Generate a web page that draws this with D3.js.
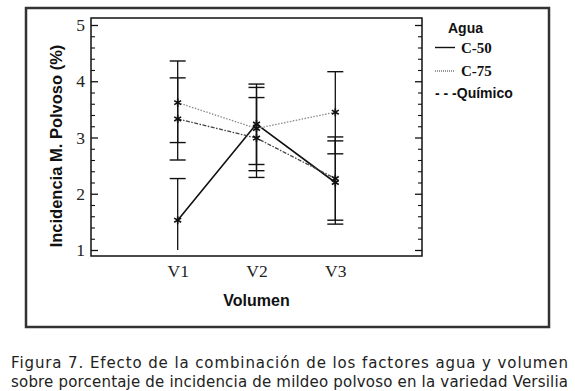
<!DOCTYPE html>
<html>
<head>
<meta charset="utf-8">
<script src="https://cdn.jsdelivr.net/npm/d3@7"></script>
<style>
  body { margin: 0; background: #fff; }
  svg { display: block; }
</style>
</head>
<body>
<div id="chart"></div>
<script>
// Data
const categories = ['V1', 'V2', 'V3'];
const c50 = [1.53, 3.24, 2.20];
const c50Low = [0.79, 2.52, 1.46];
const c50High = [2.27, 3.95, 2.94];
const c75 = [3.62, 3.16, 3.45];
const c75Low = [2.91, 2.41, 2.71];
const c75High = [4.36, 3.89, 4.17];
const quim = [3.33, 2.99, 2.27];
const quimLow = [2.60, 2.29, 1.53];
const quimHigh = [4.06, 3.71, 3.01];
const yTicks = [1, 2, 3, 4, 5];

const captionLines = [
    'Figura 7. Efecto de la combinación de los factores agua y volumen',
    'sobre porcentaje de incidencia de mildeo polvoso en la variedad Versilia'
];

const W = 575, H = 391;
const box = { left: 91, right: 422, top: 18, bottom: 256 };

const svg = d3.select('#chart')
    .append('svg')
    .attr('width', W)
    .attr('height', H);

// Outer frame
svg.append('rect')
    .attr('x', 26).attr('y', 8)
    .attr('width', 523).attr('height', 319)
    .attr('fill', '#fff')
    .attr('stroke', '#333')
    .attr('stroke-width', 2.5);

// Scales
const x = d3.scalePoint()
    .domain(categories)
    .range([box.left, box.right])
    .padding(1.1);

const y = d3.scaleLinear()
    .domain([1, 5])
    .range([250, 25]);

// Plot box
svg.append('rect')
    .attr('x', box.left).attr('y', box.top)
    .attr('width', box.right - box.left)
    .attr('height', box.bottom - box.top)
    .attr('fill', 'none')
    .attr('stroke', '#111')
    .attr('stroke-width', 1.5);

const minorTicks = d3.range(1, 5.001, 0.2).filter(v => Math.abs(v - Math.round(v)) > 0.01);

// Left axis (ticks pointing inward)
const leftAxis = svg.append('g')
    .attr('transform', `translate(${box.left},0)`)
    .call(d3.axisLeft(y).tickValues(yTicks).tickSize(-7).tickPadding(6).tickFormat(d3.format('d')));
leftAxis.select('.domain').remove();
leftAxis.selectAll('line').attr('stroke', '#111').attr('stroke-width', 1.3);
leftAxis.selectAll('text')
    .style('font-family', '"Liberation Serif", "Times New Roman", serif')
    .style('font-size', '17.5px')
    .attr('fill', '#222');

svg.append('g')
    .attr('transform', `translate(${box.left},0)`)
    .call(d3.axisLeft(y).tickValues(minorTicks).tickSize(-4).tickFormat(''))
    .call(g => g.select('.domain').remove())
    .selectAll('line').attr('stroke', '#111').attr('stroke-width', 1.1);

// Right axis (ticks pointing inward, no labels)
svg.append('g')
    .attr('transform', `translate(${box.right},0)`)
    .call(d3.axisRight(y).tickValues(yTicks).tickSize(-7).tickFormat(''))
    .call(g => g.select('.domain').remove())
    .selectAll('line').attr('stroke', '#111').attr('stroke-width', 1.3);

svg.append('g')
    .attr('transform', `translate(${box.right},0)`)
    .call(d3.axisRight(y).tickValues(minorTicks).tickSize(-4).tickFormat(''))
    .call(g => g.select('.domain').remove())
    .selectAll('line').attr('stroke', '#111').attr('stroke-width', 1.1);

// X axis labels
const xAxis = svg.append('g')
    .attr('transform', `translate(0,${box.bottom})`)
    .call(d3.axisBottom(x).tickSize(0).tickPadding(9));
xAxis.select('.domain').remove();
xAxis.selectAll('text')
    .style('font-family', '"Liberation Serif", "Times New Roman", serif')
    .style('font-size', '17.5px')
    .attr('fill', '#222');

// Axis titles
svg.append('text')
    .attr('x', (box.left + box.right) / 2)
    .attr('y', 306)
    .attr('text-anchor', 'middle')
    .style('font-family', '"Liberation Sans", Arial, sans-serif')
    .style('font-weight', 'bold')
    .style('font-size', '16px')
    .attr('fill', '#111')
    .text('Volumen');

svg.append('text')
    .attr('transform', `translate(62,${(box.top + 250) / 2 + 12}) rotate(-90)`)
    .attr('text-anchor', 'middle')
    .style('font-family', '"Liberation Sans", Arial, sans-serif')
    .style('font-weight', 'bold')
    .style('font-size', '16.5px')
    .attr('fill', '#111')
    .text('Incidencia M. Polvoso (%)');

// Series
const series = [
    { name: 'C-50', mean: c50, low: c50Low, high: c50High, color: '#111', width: 1.6, dash: null },
    { name: 'C-75', mean: c75, low: c75Low, high: c75High, color: '#8a8a8a', width: 1.3, dash: '1.5,1.5' },
    { name: 'Químico', mean: quim, low: quimLow, high: quimHigh, color: '#444', width: 1.3, dash: '4,1.5,1.5,1.5' }
];

const yMin = y.domain()[0];
const capHalf = 8;

// Error bars (clipped at the axis minimum, no cap when clipped)
series.forEach(s => {
    const g = svg.append('g').attr('class', 'errbar');
    categories.forEach((c, i) => {
        const lo = Math.max(s.low[i], yMin);
        const cx = x(c);
        g.append('line')
            .attr('x1', cx).attr('x2', cx)
            .attr('y1', y(lo)).attr('y2', y(s.high[i]))
            .attr('stroke', '#111').attr('stroke-width', 1.3);
        g.append('line')
            .attr('x1', cx - capHalf).attr('x2', cx + capHalf)
            .attr('y1', y(s.high[i])).attr('y2', y(s.high[i]))
            .attr('stroke', '#111').attr('stroke-width', 1.4);
        if (s.low[i] >= yMin) {
            g.append('line')
                .attr('x1', cx - capHalf).attr('x2', cx + capHalf)
                .attr('y1', y(s.low[i])).attr('y2', y(s.low[i]))
                .attr('stroke', '#111').attr('stroke-width', 1.4);
        }
    });
});

const line = d3.line()
    .x((d, i) => x(categories[i]))
    .y(d => y(d));

series.forEach(s => {
    svg.append('path')
        .datum(s.mean)
        .attr('d', line)
        .attr('fill', 'none')
        .attr('stroke', s.color)
        .attr('stroke-width', s.width)
        .attr('stroke-dasharray', s.dash);
});

// Markers
const marker = d3.symbol().type(d3.symbolAsterisk).size(45);
series.forEach(s => {
    svg.append('g')
        .selectAll('path')
        .data(s.mean)
        .enter()
        .append('path')
        .attr('transform', (d, i) => `translate(${x(categories[i])},${y(d)})`)
        .attr('d', marker)
        .attr('fill', 'none')
        .attr('stroke', '#111')
        .attr('stroke-width', 1.6);
});

// Legend
const legend = svg.append('g');
legend.append('text')
    .attr('x', 448).attr('y', 33)
    .style('font-family', '"Liberation Sans", Arial, sans-serif')
    .style('font-weight', 'bold')
    .style('font-size', '14px')
    .attr('fill', '#111')
    .text('Agua');

legend.append('line')
    .attr('x1', 435).attr('x2', 455).attr('y1', 47.5).attr('y2', 47.5)
    .attr('stroke', '#111').attr('stroke-width', 1.4);
legend.append('text')
    .attr('x', 461).attr('y', 53)
    .style('font-family', '"Liberation Serif", "Times New Roman", serif')
    .style('font-weight', 'bold')
    .style('font-size', '15px')
    .attr('fill', '#111')
    .text('C-50');

legend.append('line')
    .attr('x1', 435).attr('x2', 455).attr('y1', 71).attr('y2', 71)
    .attr('stroke', '#333').attr('stroke-width', 1)
    .attr('stroke-dasharray', '1,1');
legend.append('text')
    .attr('x', 461).attr('y', 76)
    .style('font-family', '"Liberation Serif", "Times New Roman", serif')
    .style('font-weight', 'bold')
    .style('font-size', '15px')
    .attr('fill', '#111')
    .text('C-75');

legend.append('text')
    .attr('x', 435).attr('y', 98)
    .style('font-family', '"Liberation Sans", Arial, sans-serif')
    .style('font-weight', 'bold')
    .style('font-size', '14px')
    .attr('fill', '#111')
    .text('- - -Químico');

// Caption (justified)
svg.append('g')
    .selectAll('text')
    .data(captionLines)
    .enter()
    .append('text')
    .attr('x', 11)
    .attr('y', (d, i) => 368 + i * 18.5)
    .attr('textLength', 557)
    .attr('lengthAdjust', 'spacing')
    .style('font-family', '"DejaVu Sans", sans-serif')
    .style('font-size', '15px')
    .attr('fill', '#222')
    .text(d => d);
</script>
</body>
</html>
